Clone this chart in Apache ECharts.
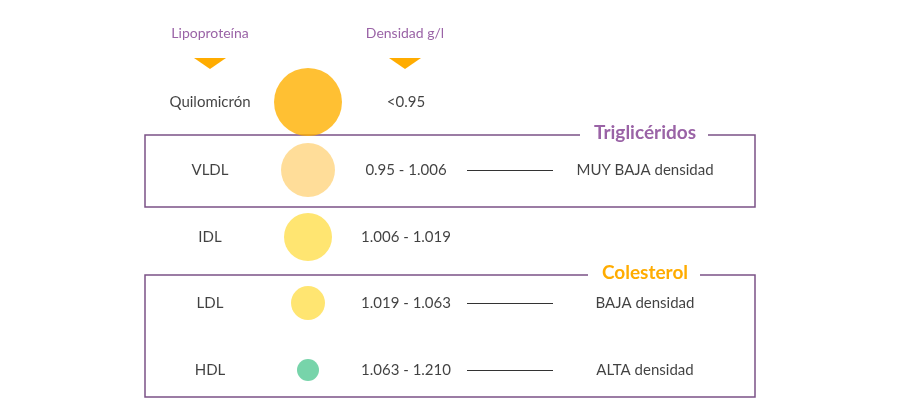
<!DOCTYPE html>
<html><head><meta charset="utf-8">
<script src="https://cdn.jsdelivr.net/npm/echarts@6/dist/echarts.min.js"></script>
<style>html,body{margin:0;background:#fff}#main{width:900px;height:420px}</style>
</head><body><div id="main"></div>
<script>
// row data
var names = ['Quilomicrón', 'VLDL', 'IDL', 'LDL', 'HDL'];
var densities = ['<0.95', '0.95 - 1.006', '1.006 - 1.019', '1.019 - 1.063', '1.063 - 1.210'];
var descriptions = ['', 'MUY BAJA densidad', '', 'BAJA densidad', 'ALTA densidad'];
var sizes = [68, 54, 48, 34, 22];
var colors = ['#ffb000', '#ffd47f', '#ffde4d', '#ffde4d', '#55c995'];
var rowY = [102, 170, 237, 303, 370];

var font = 'Lato';
var dark = '#111';
var purple = '#9a63a6';
var boxColor = '#7b5287';
var orange = '#ffac00';

function textSeries(xv, texts, color) {
  return {
    type: 'scatter', symbolSize: 0, silent: true,
    data: texts.map(function (t, i) { return t ? { value: [xv, rowY[i]], name: t } : null; }).filter(Boolean),
    label: { show: true, position: 'inside', formatter: '{b}', color: color, fontSize: 15, fontFamily: font }
  };
}

var chart = echarts.init(document.getElementById('main'));
var linkLines = [];
descriptions.forEach(function (d, i) {
  if (d) linkLines.push({ coords: [[467, rowY[i]], [553, rowY[i]]] });
});

chart.setOption({
  animation: false,
  grid: { left: 0, right: 0, top: 0, bottom: 0 },
  xAxis: { type: 'value', min: 0, max: 900, show: false },
  yAxis: { type: 'value', min: 0, max: 420, inverse: true, show: false },
  graphic: [
    { type: 'rect', shape: { x: 145, y: 135, width: 610, height: 72 }, style: { fill: 'none', stroke: boxColor, lineWidth: 1.5 } },
    { type: 'rect', shape: { x: 145, y: 275, width: 610, height: 122 }, style: { fill: 'none', stroke: boxColor, lineWidth: 1.5 } },
    { type: 'rect', shape: { x: 580, y: 124, width: 128, height: 20 }, style: { fill: '#fff' } },
    { type: 'rect', shape: { x: 588, y: 264, width: 112, height: 20 }, style: { fill: '#fff' } },
    { type: 'text', x: 645, y: 133, style: { text: 'Triglicéridos', fill: purple, font: 'bold 19px ' + font, align: 'center', verticalAlign: 'middle' } },
    { type: 'text', x: 645, y: 273, style: { text: 'Colesterol', fill: orange, font: 'bold 19px ' + font, align: 'center', verticalAlign: 'middle' } },
    { type: 'text', x: 210, y: 33, style: { text: 'Lipoproteína', fill: purple, font: '14px ' + font, align: 'center', verticalAlign: 'middle' } },
    { type: 'text', x: 405, y: 33, style: { text: 'Densidad g/l', fill: purple, font: '14px ' + font, align: 'center', verticalAlign: 'middle' } },
    { type: 'polygon', shape: { points: [[194, 58], [226, 58], [210, 69]] }, style: { fill: orange } },
    { type: 'polygon', shape: { points: [[389, 58], [421, 58], [405, 69]] }, style: { fill: orange } }
  ],
  series: [
    {
      type: 'scatter', silent: true,
      data: names.map(function (n, i) { return { value: [308, rowY[i]], symbolSize: sizes[i], itemStyle: { color: colors[i] } }; })
    },
    textSeries(210, names, dark),
    textSeries(406, densities, dark),
    textSeries(645, descriptions, dark),
    {
      type: 'lines', coordinateSystem: 'cartesian2d', silent: true, polyline: false,
      lineStyle: { color: '#333', width: 1, opacity: 1 },
      data: linkLines
    }
  ]
});
</script></body></html>
